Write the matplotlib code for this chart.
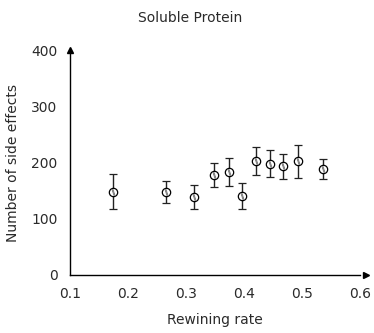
import numpy as np
import matplotlib
matplotlib.use("Agg")
import matplotlib.pyplot as plt

# values
rewiring_rate = [0.174, 0.265, 0.313, 0.349, 0.374, 0.397, 0.421, 0.445, 0.468, 0.493, 0.536]
side_effects = [148, 148, 139, 178, 183, 140, 203, 198, 193, 202, 189]
side_err = [31, 20, 21, 22, 25, 23, 25, 24, 22, 30, 18]

x_ticks = [0.1, 0.2, 0.3, 0.4, 0.5, 0.6]
y_ticks = [0, 100, 200, 300, 400]

plt.rcParams['font.family'] = ['DejaVu Sans']
txt = '#2a2a2a'

fig = plt.figure(figsize=(3.74, 3.33), dpi=100)
ax = fig.add_axes([70 / 374, (333 - 275) / 333, 290 / 374, 225 / 333])

ax.errorbar(rewiring_rate, side_effects, yerr=side_err, fmt='o',
            color='black', ecolor='#222222', elinewidth=1.0, capsize=3,
            capthick=1.0, markersize=6, markerfacecolor='white',
            markeredgecolor='black', markeredgewidth=0.9, zorder=3)
# faint diagonal stroke inside the markers
ax.plot(rewiring_rate, side_effects, linestyle='none', marker='$\\backslash$',
        markersize=4, color='#888888', zorder=4)

ax.set_xlim(0.1, 0.6)
ax.set_ylim(0, 400)
ax.set_xticks(x_ticks)
ax.set_yticks(y_ticks)
ax.set_xticklabels(['%.1f' % t for t in x_ticks])
ax.tick_params(axis='x', length=0, pad=9, labelsize=10, colors=txt)
ax.tick_params(axis='y', length=0, pad=9, labelsize=10, colors=txt)

for s in ['top', 'right']:
    ax.spines[s].set_visible(False)
for s in ['left', 'bottom']:
    ax.spines[s].set_linewidth(1.0)
    ax.spines[s].set_color('black')
ax.spines['left'].set_bounds(0, 395)

# arrow heads on the axes
ax.plot(1.02, 0, '>k', markersize=5, transform=ax.get_yaxis_transform(), clip_on=False)
ax.plot(0, 1.0, '^k', markersize=5, transform=ax.transAxes, clip_on=False)

ax.set_xlabel('Rewining rate', fontsize=10, color=txt, labelpad=8)
ax.set_ylabel('Number of side effects', fontsize=10, color=txt, labelpad=8)
fig.text(190 / 374, 1 - 18 / 333, 'Soluble Protein',
         ha='center', va='center', fontsize=10, color=txt)

fig.savefig('out.png', dpi=100)
